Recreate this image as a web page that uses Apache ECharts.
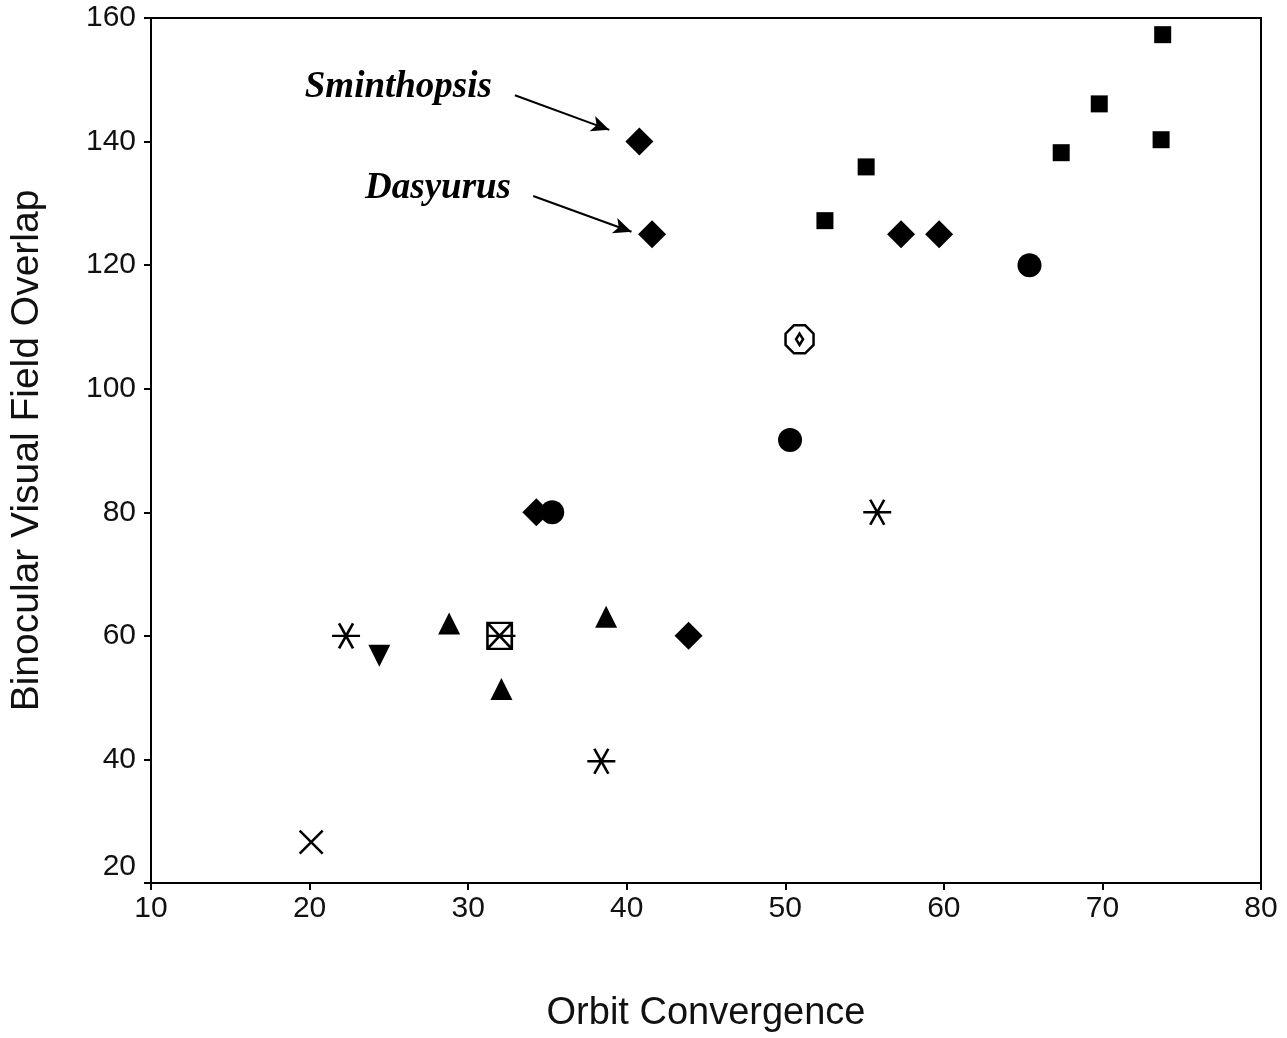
<!DOCTYPE html>
<html>
<head>
<meta charset="utf-8">
<script src="https://cdn.jsdelivr.net/npm/echarts@6/dist/echarts.min.js"></script>
<style>
  html, body { margin: 0; padding: 0; background: #fff; }
  #main { width: 1287px; height: 1038px; }
</style>
</head>
<body>
<div id="main"></div>
<script>
// point groups, [orbit convergence, binocular overlap]
var squares = [[73.8, 157.3], [69.8, 146.1], [73.7, 140.3], [67.4, 138.2], [55.1, 135.9], [52.5, 127.2]];
var diamonds = [[40.8, 140], [41.6, 125], [57.3, 125], [59.7, 125], [43.9, 60], [34.3, 80]];
var circles = [[65.4, 120], [50.3, 91.7], [35.3, 80]];
var ringDiamond = [[50.9, 108]];
var stars = [[22.3, 60], [55.8, 80], [38.4, 39.7]];
var downTriangles = [[24.4, 56.8]];
var upTriangles = [[28.8, 62], [38.7, 63.1], [32.1, 51.4]];
var boxedStars = [[32.1, 60]];
var crosses = [[20.1, 26.6]];

// annotations
var noteNames = ['Sminthopsis', 'Dasyurus'];
var notePos = [[25.6, 148.7], [28.1, 132.4]];
var arrowFrom = [[32.95, 147.5], [34.1, 131.2]];
var arrowTo = [[38.9, 141.9], [40.3, 125.4]];

var chart = echarts.init(document.getElementById('main'));

var starPath = 'path://M0,10 L20,10 M5,1.34 L15,18.66 M15,1.34 L5,18.66';
var crossPath = 'path://M0,0 L20,20 M20,0 L0,20';
var boxStarPath = 'path://M0,0 L20,0 L20,20 L0,20 Z M0,0 L20,20 M20,0 L0,20 M0,10 L23,10';
var ringPath = 'path://M6,0 L14,0 L20,6 L20,14 L14,20 L6,20 L0,14 L0,6 Z M10,6 L12.5,10 L10,14 L7.5,10 Z';

var filled = { color: '#000', opacity: 1 };
var stroked = { color: 'transparent', borderColor: '#000', borderWidth: 2.5, opacity: 1 };

function arrows() {
  var out = [];
  for (var i = 0; i < arrowFrom.length; i++) {
    out.push([{ coord: arrowFrom[i] }, { coord: arrowTo[i] }]);
  }
  return out;
}

var option = {
  backgroundColor: '#fff',
  animation: false,
  grid: {
    left: 151, right: 26, top: 18, bottom: 153,
    show: true, borderColor: '#000', borderWidth: 2
  },
  xAxis: {
    type: 'value', min: 10, max: 80, interval: 10,
    name: 'Orbit Convergence', nameLocation: 'middle', nameGap: 112,
    nameTextStyle: { fontFamily: 'Liberation Sans', fontSize: 38, color: '#111' },
    axisLine: { show: true, lineStyle: { color: '#000', width: 2 } },
    axisTick: { show: true, length: 7, lineStyle: { color: '#000', width: 2 } },
    axisLabel: { fontFamily: 'Liberation Sans', fontSize: 30, color: '#111', margin: 11 },
    splitLine: { show: false }
  },
  yAxis: {
    type: 'value', min: 20, max: 160, interval: 20,
    name: 'Binocular Visual Field Overlap', nameLocation: 'middle', nameGap: 104,
    nameTextStyle: { fontFamily: 'Liberation Sans', fontSize: 39, color: '#111' },
    axisLine: { show: true, lineStyle: { color: '#000', width: 2 } },
    axisTick: { show: true, length: 7, lineStyle: { color: '#000', width: 2 } },
    axisLabel: {
      fontFamily: 'Liberation Sans', fontSize: 30, color: '#111', margin: 15,
      formatter: function (v) { return v === 20 ? '{up|20}' : String(v); },
      rich: { up: { fontFamily: 'Liberation Sans', fontSize: 30, color: '#111', padding: [0, 0, 32, 0] } }
    },
    splitLine: { show: false }
  },
  series: [
    { type: 'scatter', data: squares, symbol: 'rect', symbolSize: 17, itemStyle: filled },
    { type: 'scatter', data: diamonds, symbol: 'diamond', symbolSize: 28, itemStyle: filled },
    { type: 'scatter', data: circles, symbol: 'circle', symbolSize: 24, itemStyle: filled },
    { type: 'scatter', data: ringDiamond, symbol: ringPath, symbolSize: 28, itemStyle: stroked },
    { type: 'scatter', data: stars, symbol: starPath, symbolSize: [28, 25], itemStyle: stroked },
    { type: 'scatter', data: downTriangles, symbol: 'triangle', symbolRotate: 180, symbolSize: 22, itemStyle: filled },
    { type: 'scatter', data: upTriangles, symbol: 'triangle', symbolSize: 22, itemStyle: filled },
    { type: 'scatter', data: boxedStars, symbol: boxStarPath, symbolSize: [28, 26], itemStyle: stroked },
    { type: 'scatter', data: crosses, symbol: crossPath, symbolSize: 23, itemStyle: stroked },
    {
      type: 'scatter',
      data: noteNames.map(function (n, i) { return { name: n, value: notePos[i] }; }),
      symbolSize: 0,
      itemStyle: { opacity: 1 },
      label: {
        show: true, position: 'inside', formatter: '{b}',
        fontFamily: 'Liberation Serif', fontStyle: 'italic', fontWeight: 'bold',
        fontSize: 37, color: '#000', opacity: 1
      },
      markLine: {
        silent: true,
        symbol: ['none', 'arrow'],
        symbolSize: [12, 18],
        label: { show: false },
        lineStyle: { color: '#000', width: 2, type: 'solid', opacity: 1 },
        data: arrows()
      }
    }
  ]
};

chart.setOption(option);
</script>
</body>
</html>
